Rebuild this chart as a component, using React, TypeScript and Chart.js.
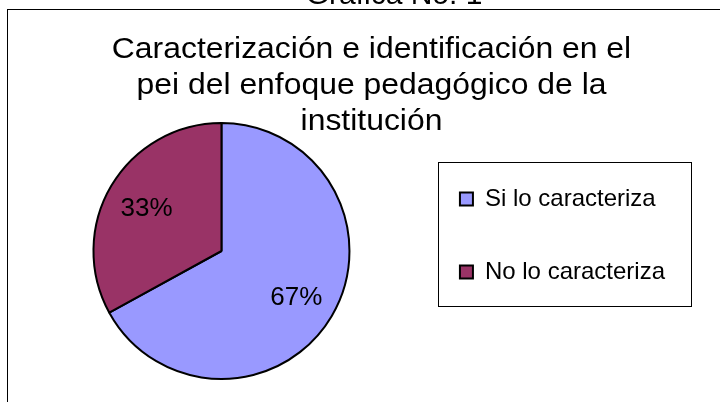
import React, { useEffect, useRef } from 'react';
import { Chart, registerables } from 'chart.js';

Chart.register(...registerables);

// ---- data ----
const categories: string[] = ['Si lo caracteriza', 'No lo caracteriza'];
const values: number[] = [67, 33];
const sliceColors: string[] = ['#9999FF', '#993366'];
const headerText = 'Grafica No. 1';
const titleLines: string[] = [
  'Caracterización e identificación en el',
  'pei del enfoque pedagógico de la',
  'institución',
];

const FONT = '"Liberation Sans", Arial, Helvetica, sans-serif';

const decorPlugin = {
  id: 'decor',
  beforeDraw(chart: any) {
    const { ctx, width, height } = chart;
    ctx.save();
    ctx.fillStyle = '#ffffff';
    ctx.fillRect(0, 0, width, height);
    // outer frame (continues past right and bottom edges)
    ctx.strokeStyle = '#000000';
    ctx.lineWidth = 1;
    ctx.strokeRect(7.5, 9.5, width + 20, height + 20);
    // header above frame (partly cut off)
    ctx.fillStyle = '#000000';
    ctx.font = `30px ${FONT}`;
    ctx.textAlign = 'center';
    ctx.textBaseline = 'alphabetic';
    ctx.fillText(headerText, 394, 3.5);
    // chart title (slightly wide lettering, as in the original)
    const baselines = [58, 94, 130];
    ctx.save();
    ctx.translate(371.5, 0);
    ctx.scale(1.063, 1);
    titleLines.forEach((line, i) => ctx.fillText(line, 0, baselines[i]));
    ctx.restore();
    ctx.restore();
  },
  afterDraw(chart: any) {
    const { ctx } = chart;
    ctx.save();
    // legend frame
    const hb = chart.legend && chart.legend.legendHitBoxes;
    if (hb && hb.length) {
      const first = hb[0];
      const last = hb[hb.length - 1];
      const left = first.left - 22;
      const top = first.top - 25;
      const right = first.left + 231;
      const bottom = last.top + last.height + 22;
      ctx.strokeStyle = '#000000';
      ctx.lineWidth = 1;
      ctx.strokeRect(Math.round(left) + 0.5, Math.round(top) + 0.5, Math.round(right - left), Math.round(bottom - top));
    }
    // percentage labels
    const meta = chart.getDatasetMeta(0);
    const data = chart.data.datasets[0].data as number[];
    const total = data.reduce((a, b) => a + b, 0);
    ctx.fillStyle = '#000000';
    ctx.font = `26px ${FONT}`;
    ctx.textAlign = 'center';
    ctx.textBaseline = 'alphabetic';
    meta.data.forEach((arc: any, i: number) => {
      const p = arc.getProps(['x', 'y', 'startAngle', 'endAngle', 'outerRadius'], true);
      const mid = (p.startAngle + p.endAngle) / 2;
      const r = p.outerRadius * 0.68;
      const x = p.x + Math.cos(mid) * r;
      const y = p.y + Math.sin(mid) * r;
      const txt = Math.round((data[i] / total) * 100) + '%';
      ctx.fillText(txt, x, y + 26 * 0.36);
    });
    ctx.restore();
  },
};

export default function App() {
  const ref = useRef<HTMLCanvasElement | null>(null);

  useEffect(() => {
    if (!ref.current) return;
    const chart = new Chart(ref.current, {
      type: 'pie',
      data: {
        labels: categories,
        datasets: [
          {
            data: values,
            backgroundColor: sliceColors,
            borderColor: '#000000',
            borderWidth: 2,
            hoverOffset: 0,
            offset: 0,
            clip: false as any,
          } as any,
        ],
      },
      options: {
        animation: false,
        responsive: false,
        devicePixelRatio: 1,
        radius: 128,
        layout: { padding: { top: 138, bottom: 38, left: 32, right: 45 } },
        events: [],
        plugins: {
          title: { display: false },
          tooltip: { enabled: false },
          legend: {
            display: true,
            position: 'right',
            align: 'start',
            labels: {
              color: '#000000',
              font: { family: FONT, size: 24 },
              boxWidth: 13,
              boxHeight: 13,
              padding: 49,
            },
          },
        },
      } as any,
      plugins: [decorPlugin],
    });
    return () => chart.destroy();
  }, []);

  return (
    <canvas
      ref={ref}
      width={720}
      height={402}
      style={{ position: 'absolute', left: 0, top: 0, width: 720, height: 402 }}
    />
  );
}
